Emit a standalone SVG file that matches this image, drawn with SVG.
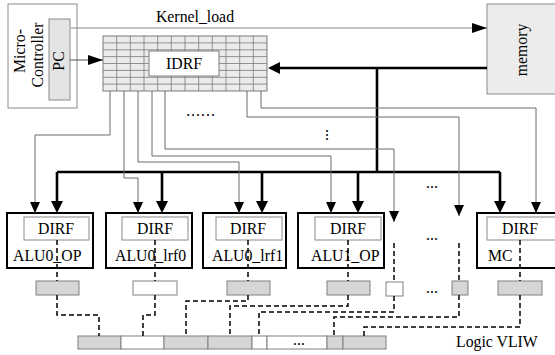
<svg xmlns="http://www.w3.org/2000/svg" width="555" height="355" viewBox="0 0 555 355">
  <style>
    text { font-family: "Liberation Serif", "Times New Roman", serif; fill: #000; }
    .lbl { font-size: 15.8px; }
    .mid { text-anchor: middle; }
    .unit { fill: #fff; stroke: #000; stroke-width: 2; }
    .dirf { fill: #fff; stroke: #8a8a8a; stroke-width: 1; }
    .slotg { fill: #d6d6d6; stroke: #808080; stroke-width: 1; }
    .slotw { fill: #fff; stroke: #808080; stroke-width: 1; }
    .wire { fill: none; stroke: #6a6a6a; stroke-width: 1; }
    .bus { fill: none; stroke: #000; stroke-width: 2.6; }
    .dash { fill: none; stroke: #000; stroke-width: 1.5; stroke-dasharray: 5 3; }
    .grid { stroke: #7a7a7a; stroke-width: 0.8; }
  </style>
  <defs>
    <marker id="headBig" viewBox="0 0 12 12" refX="6" refY="6" markerWidth="12" markerHeight="12" markerUnits="userSpaceOnUse" orient="auto">
      <path d="M0,0 L12,6 L0,12 z" fill="#000"/>
    </marker>
    <marker id="headThin" viewBox="0 0 11 10" refX="11" refY="5" markerWidth="11" markerHeight="10" markerUnits="userSpaceOnUse" orient="auto">
      <path d="M0,0 L11,5 L0,10 z" fill="#000"/>
    </marker>
    <marker id="headMid" viewBox="0 0 15 10" refX="15" refY="5" markerWidth="15" markerHeight="10" markerUnits="userSpaceOnUse" orient="auto">
      <path d="M0,0 L15,5 L0,10 z" fill="#000"/>
    </marker>
  </defs>

  <rect width="555" height="355" fill="#fff"/>

  <!-- controller with program counter -->
  <g id="micro-controller">
    <rect x="8" y="4" width="69" height="104" fill="#fff" stroke="#8a8a8a" stroke-width="1"/>
    <rect x="49" y="19" width="21" height="81" fill="#e4e4e4" stroke="#8a8a8a" stroke-width="1"/>
    <text class="lbl mid" transform="translate(25,51) rotate(-90)">Micro-</text>
    <text class="lbl mid" transform="translate(43,55) rotate(-90)">Controller</text>
    <text class="lbl mid" transform="translate(64,61) rotate(-90)">PC</text>
  </g>

  <!-- instruction register file grid -->
  <g id="idrf">
    <rect x="103" y="36" width="164" height="55" fill="#ebebeb" stroke="#7a7a7a" stroke-width="1"/>
    <g class="grid">
      <line x1="116.7" y1="36" x2="116.7" y2="91"/>
      <line x1="130.3" y1="36" x2="130.3" y2="91"/>
      <line x1="144" y1="36" x2="144" y2="91"/>
      <line x1="157.7" y1="36" x2="157.7" y2="91"/>
      <line x1="171.3" y1="36" x2="171.3" y2="91"/>
      <line x1="185" y1="36" x2="185" y2="91"/>
      <line x1="198.7" y1="36" x2="198.7" y2="91"/>
      <line x1="212.3" y1="36" x2="212.3" y2="91"/>
      <line x1="226" y1="36" x2="226" y2="91"/>
      <line x1="239.7" y1="36" x2="239.7" y2="91"/>
      <line x1="253.3" y1="36" x2="253.3" y2="91"/>
      <line x1="103" y1="42.9" x2="267" y2="42.9"/>
      <line x1="103" y1="49.8" x2="267" y2="49.8"/>
      <line x1="103" y1="56.6" x2="267" y2="56.6"/>
      <line x1="103" y1="63.5" x2="267" y2="63.5"/>
      <line x1="103" y1="70.4" x2="267" y2="70.4"/>
      <line x1="103" y1="77.3" x2="267" y2="77.3"/>
      <line x1="103" y1="84.1" x2="267" y2="84.1"/>
    </g>
    <rect x="149" y="51" width="70" height="25" fill="#fff" stroke="#7a7a7a" stroke-width="1"/>
    <text class="lbl mid" x="184" y="69">IDRF</text>
  </g>

  <!-- memory -->
  <g id="memory">
    <rect x="487" y="4" width="72" height="90" fill="#ececec" stroke="#8a8a8a" stroke-width="1"/>
    <text class="lbl mid" transform="translate(527,50) rotate(-90)">memory</text>
  </g>

  <!-- execution units -->
  <g id="alu0-op">
    <rect class="unit" x="7" y="213" width="86" height="55"/>
    <rect class="dirf" x="24" y="217" width="65" height="23"/>
    <text class="lbl mid" x="56" y="234">DIRF</text>
    <text class="lbl" x="13" y="261">ALU0_OP</text>
  </g>
  <g id="alu0-lrf0">
    <rect class="unit" x="106" y="213" width="86" height="55"/>
    <rect class="dirf" x="122" y="217" width="66" height="23"/>
    <text class="lbl mid" x="155" y="234">DIRF</text>
    <text class="lbl" x="115" y="261">ALU0_lrf0</text>
  </g>
  <g id="alu0-lrf1">
    <rect class="unit" x="203" y="213" width="83" height="55"/>
    <rect class="dirf" x="216" y="217" width="66" height="23"/>
    <text class="lbl mid" x="248" y="234">DIRF</text>
    <text class="lbl" x="212" y="261">ALU0_lrf1</text>
  </g>
  <g id="alu1-op">
    <rect class="unit" x="298" y="213" width="86" height="55"/>
    <rect class="dirf" x="315" y="217" width="66" height="23"/>
    <text class="lbl mid" x="348" y="234">DIRF</text>
    <text class="lbl" x="311" y="261">ALU1_OP</text>
  </g>
  <g id="mc">
    <rect class="unit" x="477" y="213" width="90" height="55"/>
    <rect class="dirf" x="487" y="217" width="80" height="23"/>
    <text class="lbl mid" x="520" y="234">DIRF</text>
    <text class="lbl" x="488" y="261">MC</text>
  </g>

  <!-- per-unit instruction slots -->
  <g id="slots">
    <rect class="slotg" x="36" y="281" width="43" height="14"/>
    <rect class="slotw" x="133" y="281" width="44" height="14"/>
    <rect class="slotg" x="227" y="281" width="43" height="14"/>
    <rect class="slotg" x="327" y="281" width="43" height="14"/>
    <rect class="slotw" x="386" y="282" width="17" height="14"/>
    <rect class="slotg" x="452" y="281" width="16" height="14"/>
    <rect class="slotg" x="498" y="281" width="44" height="14"/>
  </g>

  <!-- logic VLIW word -->
  <g id="logic-vliw">
    <rect class="slotg" x="78" y="336" width="43" height="13"/>
    <rect class="slotw" x="121" y="336" width="43" height="13"/>
    <rect class="slotg" x="164" y="336" width="44" height="13"/>
    <rect class="slotg" x="208" y="336" width="44" height="13"/>
    <rect class="slotw" x="252" y="336" width="15" height="13"/>
    <rect class="slotw" x="267" y="336" width="60" height="13"/>
    <rect class="slotg" x="327" y="336" width="16" height="13"/>
    <rect class="slotg" x="343" y="336" width="43" height="13"/>
    <text class="lbl mid" x="299" y="345">...</text>
    <text class="lbl" x="456" y="347">Logic VLIW</text>
  </g>

  <!-- ellipses for omitted units -->
  <g id="ellipses">
    <text class="lbl mid" x="201" y="116" letter-spacing="1">......</text>
    <text class="lbl mid" transform="translate(326,135) rotate(90)">...</text>
    <text class="lbl mid" x="432" y="188">...</text>
    <text class="lbl mid" x="432" y="240">...</text>
    <text class="lbl mid" x="432" y="293">...</text>
  </g>

  <g id="connectors">
    <!-- kernel load and program counter -->
    <line x1="71" y1="28" x2="487" y2="28" stroke="#8a8a8a" stroke-width="1" marker-end="url(#headMid)"/>
    <text class="lbl mid" x="195" y="22">Kernel_load</text>
    <line x1="70" y1="60" x2="103" y2="60" stroke="#555" stroke-width="1" marker-end="url(#headMid)"/>

    <!-- memory data bus -->
    <line class="bus" x1="487" y1="68" x2="274" y2="68" marker-end="url(#headBig)"/>
    <path class="bus" d="M377,68 V172 M57,172 H500"/>
    <line class="bus" x1="57" y1="172" x2="57" y2="207" marker-end="url(#headBig)"/>
    <line class="bus" x1="162" y1="172" x2="162" y2="207" marker-end="url(#headBig)"/>
    <line class="bus" x1="262" y1="172" x2="262" y2="207" marker-end="url(#headBig)"/>
    <line class="bus" x1="358" y1="172" x2="358" y2="207" marker-end="url(#headBig)"/>
    <line class="bus" x1="500" y1="172" x2="500" y2="207" marker-end="url(#headBig)"/>

    <!-- IDRF outputs to unit register files -->
    <path class="wire" d="M110,91 V135 H35 V213" marker-end="url(#headThin)"/>
    <path class="wire" d="M124,91 V178 H138 V213" marker-end="url(#headThin)"/>
    <path class="wire" d="M138,91 V162 H239 V213" marker-end="url(#headThin)"/>
    <path class="wire" d="M152,91 V156 H331 V213" marker-end="url(#headThin)"/>
    <path class="wire" d="M165,91 V149 H394 V222" marker-end="url(#headThin)"/>
    <path class="wire" d="M247,91 V117 H459 V216" marker-end="url(#headThin)"/>
    <path class="wire" d="M261,91 V108 H536 V213" marker-end="url(#headThin)"/>

    <!-- slot selection into logic VLIW -->
    <path class="dash" d="M57,240 V281 M57,295 V315 H99 V336"/>
    <path class="dash" d="M155,240 V281 M155,295 V315 H143 V336"/>
    <path class="dash" d="M248,240 V281 M248,295 V301 H186 V336"/>
    <path class="dash" d="M348,240 V281 M348,295 V306 H230 V336"/>
    <path class="dash" d="M394,243 V282 M394,296 V312 H259 V336"/>
    <path class="dash" d="M459,243 V281 M459,295 V317 H334 V336"/>
    <path class="dash" d="M520,240 V281 M520,295 V327 H364 V336"/>
  </g>
</svg>
